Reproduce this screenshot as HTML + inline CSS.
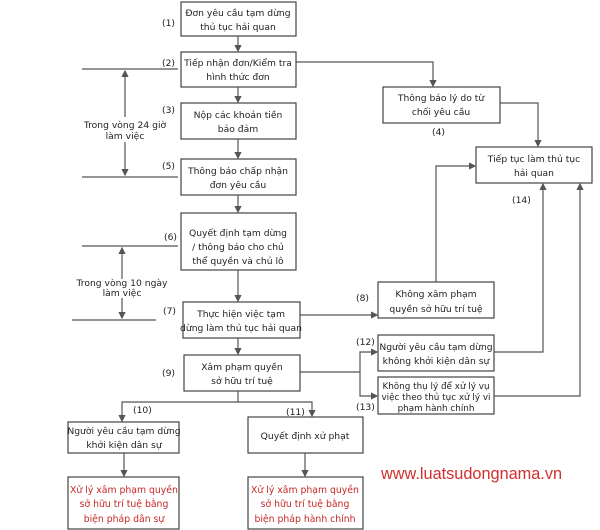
<!DOCTYPE html>
<html><head><meta charset="utf-8"><style>
body{margin:0;background:#fff;}
svg{display:block;font-family:"DejaVu Sans","Liberation Sans",sans-serif;}
.b{fill:#fff;stroke:#444;stroke-width:1.2;}
.l{stroke:#555;stroke-width:1.2;fill:none;}
text{font-size:9.2px;fill:#222;}
.c{text-anchor:middle;}
.r{fill:#c62828;font-size:9.3px;}
</style></head><body>
<svg width="600" height="530" viewBox="0 0 600 530">
<defs><marker id="a" markerWidth="6" markerHeight="6" refX="5" refY="3" orient="auto"><path d="M0,0 L6,3 L0,6z" fill="#555"/></marker></defs>
<rect class="b" x="181" y="2" width="115" height="34"/>
<text class="c" x="238" y="16">Đơn yêu cầu tạm dừng</text><text class="c" x="238" y="30">thủ tục hải quan</text>
<rect class="b" x="181" y="52" width="115" height="35"/>
<text class="c" x="238" y="66">Tiếp nhận đơn/Kiểm tra</text><text class="c" x="238" y="80">hình thức đơn</text>
<rect class="b" x="181" y="103" width="115" height="36"/>
<text class="c" x="238" y="118">Nộp các khoản tiền</text><text class="c" x="238" y="132">bảo đảm</text>
<rect class="b" x="181" y="159" width="115" height="36"/>
<text class="c" x="238" y="174">Thông báo chấp nhận</text><text class="c" x="238" y="188">đơn yêu cầu</text>
<rect class="b" x="181" y="213" width="115" height="57"/>
<text class="c" x="238" y="236">Quyết định tạm dừng</text><text class="c" x="238" y="250">/ thông báo cho chủ</text><text class="c" x="238" y="264">thể quyền và chủ lô</text>
<rect class="b" x="183" y="302" width="117" height="36"/>
<text class="c" x="241" y="317">Thực hiện việc tạm</text><text class="c" x="241" y="331">dừng làm thủ tục hải quan</text>
<rect class="b" x="184" y="355" width="116" height="36"/>
<text class="c" x="242" y="370">Xâm phạm quyền</text><text class="c" x="242" y="384">sở hữu trí tuệ</text>
<rect class="b" x="68" y="422" width="111" height="31"/>
<text class="c" x="124" y="434">Người yêu cầu tạm dừng</text><text class="c" x="124" y="448">khởi kiện dân sự</text>
<rect class="b" x="248" y="417" width="115" height="36"/>
<text class="c" x="305" y="439">Quyết định xử phạt</text>
<rect class="b" x="68" y="477" width="111" height="52"/>
<text class="c r" x="124" y="493">Xử lý xâm phạm quyền</text><text class="c r" x="124" y="507">sở hữu trí tuệ bằng</text><text class="c r" x="124" y="522">biện pháp dân sự</text>
<rect class="b" x="248" y="477" width="115" height="52"/>
<text class="c r" x="305" y="493">Xử lý xâm phạm quyền</text><text class="c r" x="305" y="507">sở hữu trí tuệ bằng</text><text class="c r" x="305" y="522">biện pháp hành chính</text>
<rect class="b" x="383" y="87" width="117" height="36"/>
<text class="c" x="441" y="101">Thông báo lý do từ</text><text class="c" x="441" y="115">chối yêu cầu</text>
<rect class="b" x="476" y="147" width="116" height="36"/>
<text class="c" x="534" y="162">Tiếp tục làm thủ tục</text><text class="c" x="534" y="176">hải quan</text>
<rect class="b" x="378" y="282" width="116" height="36"/>
<text class="c" x="436" y="297">Không xâm phạm</text><text class="c" x="436" y="312">quyền sở hữu trí tuệ</text>
<rect class="b" x="378" y="335" width="116" height="36"/>
<text class="c" x="436" y="350">Người yêu cầu tạm dừng</text><text class="c" x="436" y="364">không khởi kiện dân sự</text>
<rect class="b" x="378" y="377" width="116" height="37"/>
<text class="c" x="436" y="389" style="font-size:8.8px">Không thụ lý để xử lý vụ</text><text class="c" x="436" y="400" style="font-size:8.8px">việc theo thủ tục xử lý vi</text><text class="c" x="436" y="411" style="font-size:8.8px">phạm hành chính</text>
<text x="162" y="26">(1)</text><text x="162" y="66">(2)</text><text x="162" y="113">(3)</text><text x="162" y="169">(5)</text>
<text x="164" y="240">(6)</text><text x="163" y="314">(7)</text><text x="162" y="376">(9)</text>
<text x="356" y="301">(8)</text><text x="356" y="345">(12)</text><text x="356" y="410">(13)</text>
<text x="133" y="413">(10)</text><text x="286" y="415">(11)</text>
<text x="432" y="135">(4)</text><text x="512" y="203">(14)</text>
<line class="l" x1="238" y1="36" x2="238" y2="51" marker-end="url(#a)"/>
<line class="l" x1="238" y1="87" x2="238" y2="102" marker-end="url(#a)"/>
<line class="l" x1="238" y1="139" x2="238" y2="158" marker-end="url(#a)"/>
<line class="l" x1="238" y1="195" x2="238" y2="212" marker-end="url(#a)"/>
<line class="l" x1="238" y1="270" x2="238" y2="301" marker-end="url(#a)"/>
<line class="l" x1="238" y1="338" x2="238" y2="354" marker-end="url(#a)"/>
<polyline class="l" points="238,391 238,402 122,402 122,421" marker-end="url(#a)"/>
<polyline class="l" points="238,402 312,402 312,416" marker-end="url(#a)"/>
<line class="l" x1="124" y1="453" x2="124" y2="476" marker-end="url(#a)"/>
<line class="l" x1="305" y1="453" x2="305" y2="476" marker-end="url(#a)"/>
<polyline class="l" points="296,62 433,62 433,86" marker-end="url(#a)"/>
<polyline class="l" points="500,103 538,103 538,146" marker-end="url(#a)"/>
<polyline class="l" points="436,282 436,166 475,166" marker-end="url(#a)"/>
<polyline class="l" points="494,352 543,352 543,184" marker-end="url(#a)"/>
<polyline class="l" points="494,396 580,396 580,184" marker-end="url(#a)"/>
<line class="l" x1="300" y1="315" x2="377" y2="315" marker-end="url(#a)"/>
<polyline class="l" points="300,372 360,372"/>
<polyline class="l" points="360,372 360,352 377,352" marker-end="url(#a)"/>
<polyline class="l" points="360,372 360,396 377,396" marker-end="url(#a)"/>
<line class="l" x1="82" y1="69" x2="178" y2="69"/>
<line class="l" x1="82" y1="177" x2="178" y2="177"/>
<line class="l" x1="125" y1="117" x2="125" y2="71" marker-end="url(#a)"/>
<line class="l" x1="125" y1="142" x2="125" y2="175" marker-end="url(#a)"/>
<text class="c" x="125" y="128">Trong vòng 24 giờ</text><text class="c" x="125" y="139">làm việc</text>
<line class="l" x1="82" y1="246" x2="178" y2="246"/>
<line class="l" x1="72" y1="320" x2="156" y2="320"/>
<line class="l" x1="122" y1="279" x2="122" y2="248" marker-end="url(#a)"/>
<line class="l" x1="122" y1="298" x2="122" y2="318" marker-end="url(#a)"/>
<text class="c" x="122" y="286">Trong vòng 10 ngày</text><text class="c" x="122" y="296">làm việc</text>
<text x="381" y="479" style="font-family:'Liberation Sans',sans-serif;font-size:16.3px;fill:#d32f2f;">www.luatsudongnama.vn</text>
</svg>
</body></html>
